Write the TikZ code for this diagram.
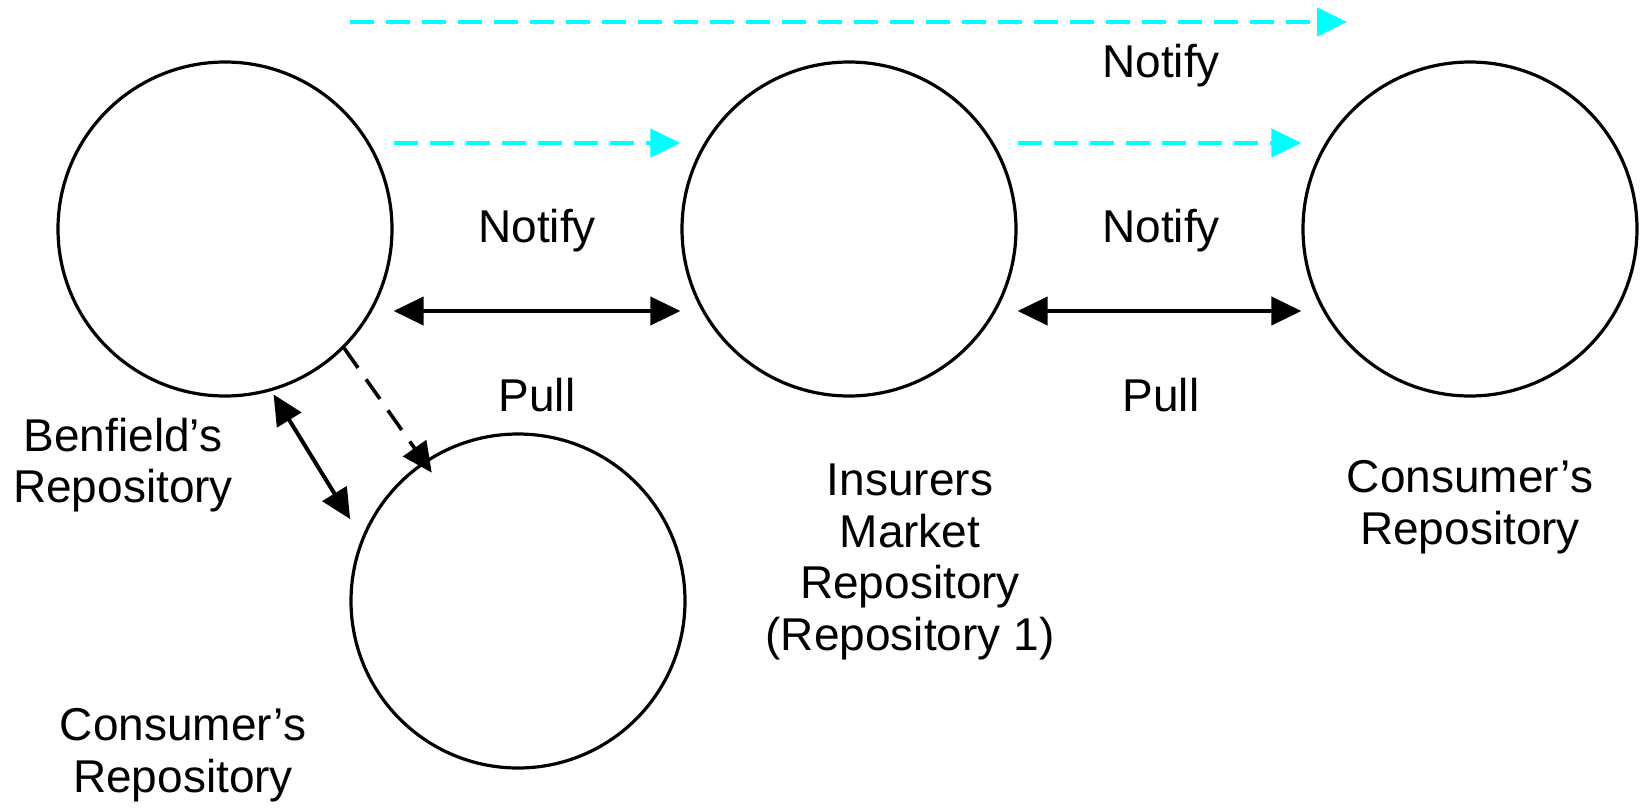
\documentclass[tikz,border=0pt]{standalone}
\usepackage{fontspec}
\setmainfont{Liberation Sans}
\usepackage{xcolor}
\usepackage{tikz}
\usetikzlibrary{shapes}
\usetikzlibrary{arrows.meta}
\usetikzlibrary{positioning}
\usetikzlibrary{calc}
\definecolor{notifycol}{HTML}{00FFFF}
\newcommand{\lblfont}{\fontsize{23}{25.8}\selectfont}

\begin{document}
\begin{tikzpicture}[
  x=0.5pt, y=-0.5pt,
  repo/.style={
    circle,
    draw=black,
    line width=1.6pt,
    inner sep=0pt,
    minimum size=167pt},
  pull/.style={
    {Triangle[length=15pt,width=14pt]}-{Triangle[length=15pt,width=14pt]},
    line width=2pt},
  notify/.style={
    -{Triangle[length=15pt,width=14pt]},
    draw=notifycol,
    line width=2.2pt,
    dash pattern=on 12pt off 6pt},
  dep/.style={
    -{Triangle[length=15pt,width=14pt]},
    line width=1.8pt,
    dash pattern=on 12pt off 7pt},
  lbl/.style={
    align=center,
    inner sep=0pt,
    font=\lblfont},
]

  \useasboundingbox (0,0) rectangle (1640,809);

  \def\rowtop{229}%
  \def\notifyshift{43pt}%
  \def\pullshift{-41pt}%

        \node[repo] (benfield) at (225, \rowtop) {};
        \node[repo] (insurers) at (849, \rowtop) {};
        \node[repo] (consumer_r) at (1470, \rowtop) {};
        \node[repo] (consumer_b) at (518, 601) {};

        \coordinate (top_s) at (350, 22);
        \coordinate (top_e) at (1347, 22);

        \node[lbl] (notify_top) at (1161, 66) {Notify};
        \node[lbl] (notify_1) at (537, 231) {Notify};
        \node[lbl] (notify_2) at (1161, 231) {Notify};
        \node[lbl] (pull_1) at (537, 395) {Pull};
        \node[lbl] (pull_2) at (1161, 395) {Pull};

        \node[lbl] (benfield_lbl) at (123, 465) {Benfield’s\\Repository};
        \node[lbl] (insurers_lbl) at (910, 562)
            {Insurers\\Market\\Repository\\(Repository 1)};
        \node[lbl] (consumer_r_lbl) at (1470, 507) {Consumer’s\\Repository};
        \node[lbl] (consumer_b_lbl) at (183, 755) {Consumer’s\\Repository};

        \draw[notify] (top_s) to (top_e);
        \draw[notify] ([yshift=\notifyshift]benfield.east)
            to ([yshift=\notifyshift]insurers.west);
        \draw[notify] ([yshift=\notifyshift]insurers.east)
            to ([yshift=\notifyshift]consumer_r.west);

        \draw[pull] ([yshift=\pullshift]benfield.east)
            to ([yshift=\pullshift]insurers.west);
        \draw[pull] ([yshift=\pullshift]insurers.east)
            to ([yshift=\pullshift]consumer_r.west);

        \draw[pull, shorten <=2pt, shorten >=11pt] (benfield.-74) to (consumer_b.158);
        \draw[dep, shorten >=-7pt] (benfield.-45) to (consumer_b.124);

\end{tikzpicture}
\end{document}
